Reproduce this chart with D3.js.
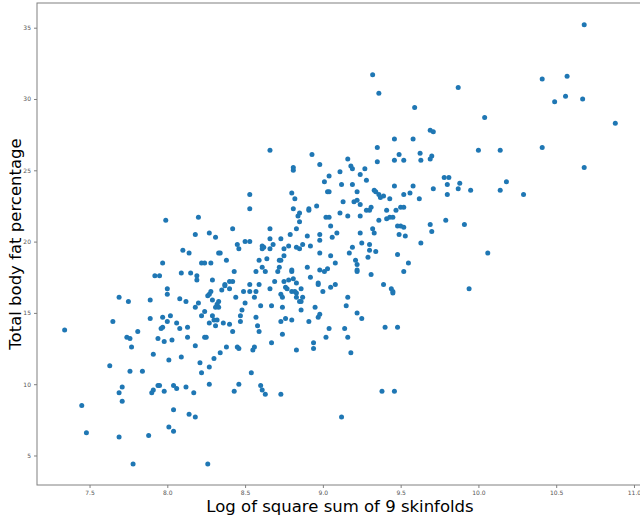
<!DOCTYPE html>
<html>
<head>
<meta charset="utf-8">
<script src="https://cdn.jsdelivr.net/npm/d3@7"></script>
<style>
  html, body { margin: 0; padding: 0; background: #fff; }
  svg { display: block; }
</style>
</head>
<body>
<svg id="chart" width="640" height="517"></svg>
<script>
// Log of square sum of 9 skinfolds (x) and total body fat percentage (y)
const logSkinfolds = [
  7.99,8.20,8.42,8.18,8.27,8.31,8.45,8.46,8.10,8.14,8.33,8.34,7.97,8.22,8.24,8.28,8.38,7.92,7.95,8.09,
  8.15,8.19,8.19,8.29,8.43,8.37,8.40,8.42,
  8.00,8.00,7.69,7.75,7.89,8.08,8.12,8.20,8.18,8.26,8.27,8.28,8.29,8.33,8.35,8.37,8.40,8.44,8.32,8.31,
  8.33,8.24,8.22,8.29,8.27,8.30,8.32,8.31,8.36,8.40,8.42,8.47,8.47,7.65,7.89,7.97,8.02,8.00,8.06,7.97,
  7.96,8.08,8.13,7.81,7.74,7.76,7.77,7.94,7.98,8.03,8.13,8.24,8.25,8.18,8.38,8.45,8.46,8.34,8.30,7.91,
  8.09,8.01,8.21,8.27,7.63,7.76,7.84,8.22,7.71,7.69,7.71,7.94,7.95,7.91,7.90,7.98,8.04,8.06,8.12,8.17,
  8.27,8.46,8.43,8.04,8.14,8.18,8.01,8.04,7.69,7.88,7.78,8.26,
  7.34,7.45,7.48,
  8.49,8.53,8.57,8.56,8.66,8.76,8.77,8.73,8.74,8.80,8.82,8.83,8.86,8.83,8.87,8.85,8.86,9.00,9.05,8.97,
  9.08,8.53,8.59,8.50,8.48,8.60,8.67,8.74,8.86,8.95,8.98,8.97,9.16,9.15,9.22,9.25,8.57,8.58,8.59,8.73,
  8.76,8.80,8.91,8.74,9.04,9.02,9.14,9.16,9.18,8.67,8.94,8.94,8.83,8.56,8.55,8.54,8.60,8.61,8.63,8.73,
  9.12,
  9.39,9.44,9.45,9.45,9.94,9.40,9.48,9.38,9.46,10.06,9.48,9.55,9.52,9.19,9.17,9.30,9.34,9.29,9.21,9.22,
  9.22,9.22,9.31,9.08,
  8.66,8.93,8.98,8.81,8.81,9.16,9.18,9.19,9.27,9.11,9.24,9.04,9.01,9.28,9.12,9.19,9.03,9.04,9.22,8.53,
  8.80,8.82,9.13,9.20,9.22,9.24,8.53,8.81,8.91,8.91,8.96,8.85,8.84,8.85,9.11,9.16,9.24,9.28,9.30,9.31,
  9.02,9.04,9.05,8.83,8.66,8.79,8.90,8.98,9.09,9.06,8.50,8.53,8.66,8.73,9.24,8.98,9.25,9.30,8.61,8.62,
  8.61,8.68,8.75,8.78,8.83,8.85,8.87,8.92,8.66,8.98,9.05,8.64,8.75,8.59,8.72,8.73,8.61,8.72,8.90,8.57,
  8.63,8.71,8.80,8.80,8.98,9.01,9.03,8.92,8.78,8.81,8.83,8.69,8.75,8.97,
  9.59,10.04,9.69,9.71,9.46,9.58,9.35,9.49,9.625,9.70,9.69,10.00,10.14,9.35,9.46,9.52,9.63,9.78,9.81,9.88,
  9.80,9.87,9.95,10.14,9.80,9.33,9.34,9.36,9.37,9.39,9.46,9.58,9.52,9.56,9.43,9.62,9.71,9.41,9.47,9.50,
  9.52,9.41,9.43,9.45,9.36,9.32,9.33,9.48,9.50,9.52,9.49,9.53,9.69,9.70,9.79,9.91,9.63,10.18,10.29,
  10.68,9.32,9.36,9.87,10.41,10.57,10.49,10.56,10.67,10.88,10.41,10.68
];
const bodyFatPct = [
  21.5,21.7,20.9,20.5,20.6,20.3,19.8,19.5,19.4,19.2,19.2,19.2,18.5,18.5,18.5,18.5,18.7,17.6,17.6,17.8,
  17.8,17.6,17.3,17.3,17.9,17.0,17.2,17.2,
  16.7,16.3,16.1,15.8,15.9,16.0,15.8,15.7,15.4,16.2,16.3,16.5,15.9,15.8,16.6,16.9,16.7,16.1,15.6,15.4,
  15.4,15.1,14.8,14.8,14.3,14.5,14.5,14.1,14.3,14.2,13.7,14.8,14.4,14.4,14.6,14.7,14.8,14.4,14.3,14.0,
  13.9,13.9,14.0,13.7,13.3,13.2,12.6,13.2,13.0,13.1,13.3,13.3,13.3,12.7,12.6,12.6,12.5,12.2,11.8,12.1,
  11.9,11.7,11.5,11.2,11.3,10.9,10.9,10.8,9.8,9.4,8.8,9.9,9.9,9.6,9.4,9.5,9.9,9.7,9.8,9.4,
  10.0,10.0,9.5,8.2,7.9,7.7,7.0,6.7,6.3,6.4,4.4,4.4,
  13.8,8.5,6.6,
  16.5,16.5,16.5,16.1,16.7,16.8,16.7,16.3,16.1,16.5,16.5,16.4,16.7,16.1,16.1,15.8,15.8,16.5,16.8,17.0,
  17.0,17.0,17.0,15.7,15.2,15.5,15.5,15.4,15.2,15.4,14.9,14.7,16.1,15.5,15.0,14.6,14.7,14.1,13.7,14.4,
  14.6,14.5,14.4,13.5,13.9,13.3,13.9,13.3,12.2,12.9,12.9,12.5,12.4,12.6,12.4,10.8,9.9,9.6,9.3,9.3,
  7.7,
  17.0,16.7,16.5,16.4,16.7,14.0,14.0,9.5,9.5,19.2,19.1,18.5,17.9,19.6,19.2,19.4,19.3,18.9,18.7,18.4,
  18.0,17.9,17.7,18.5,
  26.4,26.1,25.4,25.2,25.0,25.8,25.3,25.1,25.1,24.9,24.7,24.6,24.2,24.3,24.0,24.0,23.5,23.5,23.5,23.3,
  23.4,23.0,22.8,22.8,22.9,22.6,22.3,22.3,22.2,22.3,22.5,22.0,21.8,21.4,22.0,21.8,21.8,22.2,22.2,22.4,
  21.7,21.7,21.1,20.9,20.9,20.5,20.4,20.5,20.6,20.3,20.0,20.0,20.2,20.2,20.6,20.1,19.9,19.8,19.7,19.6,
  19.5,19.8,19.5,19.7,19.6,19.5,19.8,19.7,19.5,19.2,19.0,18.8,19.0,18.7,18.7,18.7,18.2,18.2,18.2,17.9,
  17.9,17.9,17.9,18.0,18.0,17.9,18.1,17.5,17.3,17.4,17.1,17.2,17.2,17.1,
  29.4,28.7,27.8,27.7,27.2,27.2,26.6,26.1,26.2,26.0,25.8,26.4,26.4,25.6,25.7,25.7,25.7,24.5,24.5,24.1,
  24.0,23.7,23.6,23.6,23.3,23.6,23.5,23.3,23.1,23.2,23.9,23.9,23.3,23.4,23.0,23.0,23.7,22.2,22.2,22.4,
  22.4,21.6,21.7,21.7,21.5,20.9,20.6,21.1,21.1,21.0,20.5,20.4,21.2,20.7,21.5,21.2,19.9,24.2,23.3,
  35.2,31.7,30.4,30.8,31.4,31.6,29.8,30.2,30.0,28.3,26.6,25.2
];
const xTickValues = [7.5, 8.0, 8.5, 9.0, 9.5, 10.0, 10.5, 11.0];
const yTickValues = [5, 10, 15, 20, 25, 30, 35];
const xLabel = "Log of square sum of 9 skinfolds";
const yLabel = "Total body fat percentage";

const points = logSkinfolds.map((x, i) => ({x, y: bodyFatPct[i]}));

const svg = d3.select("#chart");
const plotLeft = 37, plotRight = 643, plotTop = 3, plotBottom = 485;

const xScale = d3.scaleLinear().domain([7.1623, 11.058]).range([plotLeft, plotRight]);
const yScale = d3.scaleLinear().domain([2.931, 36.732]).range([plotBottom, plotTop]);

// frame (spines)
svg.append("rect")
  .attr("x", plotLeft).attr("y", plotTop)
  .attr("width", plotRight - plotLeft).attr("height", plotBottom - plotTop)
  .attr("fill", "none").attr("stroke", "#808080").attr("stroke-width", 1);

const xAxis = svg.append("g")
  .attr("transform", `translate(0,${plotBottom})`)
  .call(d3.axisBottom(xScale).tickValues(xTickValues).tickFormat(d3.format(".1f")).tickSize(3).tickPadding(2.5));
const yAxis = svg.append("g")
  .attr("transform", `translate(${plotLeft},0)`)
  .call(d3.axisLeft(yScale).tickValues(yTickValues).tickFormat(d3.format("d")).tickSize(3).tickPadding(3));

[xAxis, yAxis].forEach(a => {
  a.select(".domain").remove();
  a.selectAll(".tick line").attr("stroke", "#808080");
  a.selectAll(".tick text")
    .attr("fill", "#555")
    .style("font-family", "DejaVu Sans, sans-serif")
    .style("font-size", "6px");
});

svg.append("g")
  .selectAll("circle")
  .data(points)
  .join("circle")
  .attr("cx", d => xScale(d.x))
  .attr("cy", d => yScale(d.y))
  .attr("r", 2.5)
  .attr("fill", "#1f77b4");

svg.append("text")
  .attr("x", 340).attr("y", 512)
  .attr("text-anchor", "middle")
  .style("font-family", "DejaVu Sans, sans-serif")
  .style("font-size", "16.5px")
  .attr("fill", "#000")
  .text(xLabel);

svg.append("text")
  .attr("transform", `translate(21,244) rotate(-90)`)
  .attr("text-anchor", "middle")
  .style("font-family", "DejaVu Sans, sans-serif")
  .style("font-size", "16.5px")
  .attr("fill", "#000")
  .text(yLabel);
</script>
</body>
</html>
